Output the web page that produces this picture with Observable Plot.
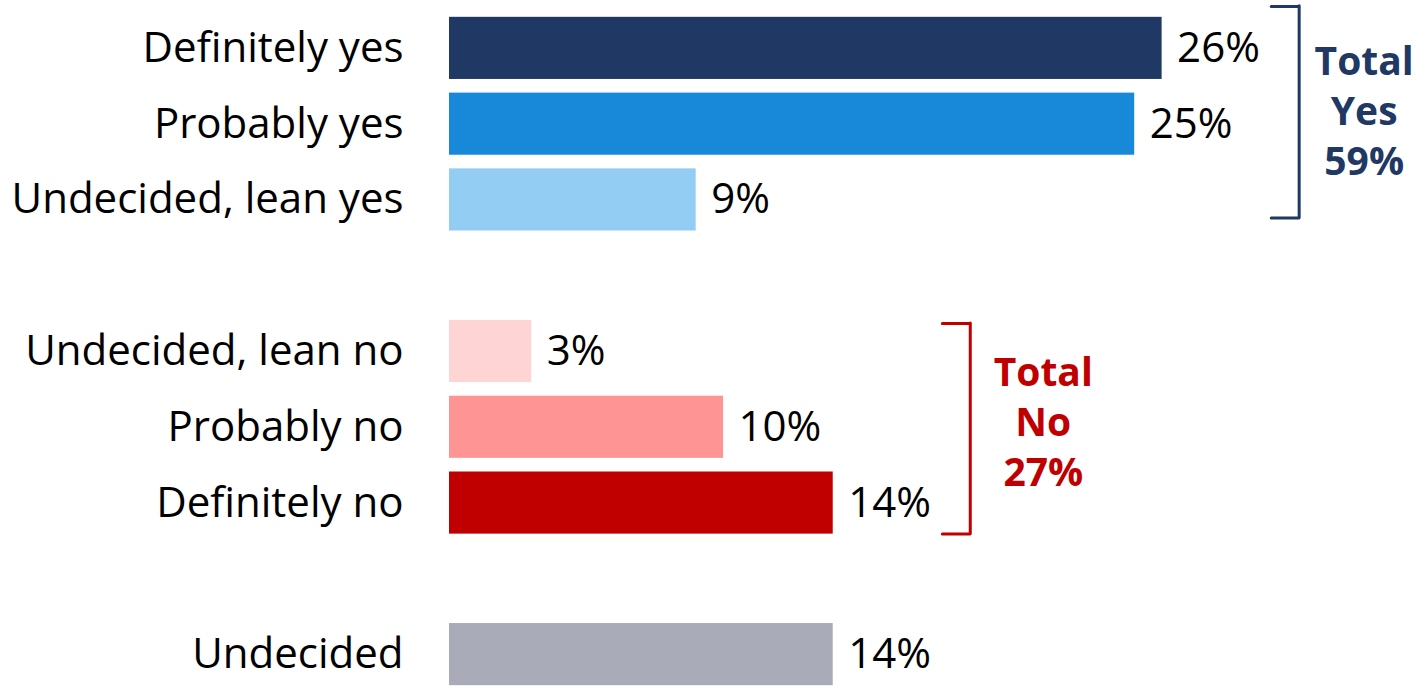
<!DOCTYPE html>
<html><head><meta charset="utf-8">
<script src="https://cdn.jsdelivr.net/npm/d3@7"></script>
<script src="https://cdn.jsdelivr.net/npm/@observablehq/plot@0.6"></script>
<style>html,body{margin:0;padding:0;background:#fff;overflow:hidden} #chart svg{display:block}</style>
</head><body><div id="chart"></div>
<script>
// ---- data ----
const categories = ["Definitely yes", "Probably yes", "Undecided, lean yes", "Undecided, lean no", "Probably no", "Definitely no", "Undecided"];
const values = [26, 25, 9, 3, 10, 14, 14];
const groups = ["yes", "yes", "yes", "no", "no", "no", "undecided"];
const barColors = ["#1f3864", "#1888d8", "#93cdf3", "#ffd4d5", "#ff9494", "#c00000", "#a9abb8"];
const totalGroups = ["yes", "no"];
const totalNames = ["Yes", "No"];
const totalValues = [59, 27];
const totalColors = ["#1f3864", "#c00000"];

// ---- derived tables ----
const rows = categories.map((c, i) => ({category: c, value: values[i], group: groups[i]}));
const yDomain = [];
rows.forEach((r, i) => {
  if (i > 0 && r.group !== rows[i - 1].group) yDomain.push("gap" + i);
  yDomain.push(r.category);
});

const FONT = "'Open Sans', sans-serif";
const FS = 42;
const FS_TOTAL = 39;

// per-bracket style tweaks (pixel offsets)
const bracketStyle = {
  yes: {topOff: -11, botOff: 13, dx: 65, dy: -15},
  no: {topOff: 3, botOff: 0, dx: 73, dy: -7}
};

const bracketMarks = totalGroups.flatMap((g, k) => {
  const members = rows.filter(r => r.group === g);
  const bx = d3.max(members, r => r.value) + 5;
  const first = members[0].category;
  const last = members[members.length - 1].category;
  const mid = members[Math.floor(members.length / 2)].category;
  const s = bracketStyle[g];
  const color = totalColors[k];
  const datum = [{x: bx, first, last, mid, label: `Total\n${totalNames[k]}\n${totalValues[k]}%`}];
  const common = {stroke: color, strokeWidth: 3, strokeLinecap: "round"};
  return [
    Plot.ruleX(datum, {x: "x", y1: "first", y2: "last", insetTop: s.topOff, insetBottom: s.botOff, ...common}),
    Plot.ruleY(datum, {y: "first", x1: d => d.x - 1, x2: "x", dy: -31 + s.topOff, ...common}),
    Plot.ruleY(datum, {y: "last", x1: d => d.x - 1, x2: "x", dy: 31 - s.botOff, ...common}),
    Plot.text(datum, {x: "x", y: "mid", text: "label", dx: s.dx, dy: s.dy, fill: color, fontWeight: "bold", fontSize: FS_TOTAL, lineHeight: 1.28, textAnchor: "middle", fontFamily: FONT})
  ];
});

const chart = Plot.plot({
  width: 1422,
  height: 692,
  marginLeft: 449,
  marginRight: 0,
  marginTop: 10,
  marginBottom: 0,
  style: {fontFamily: FONT, fontSize: FS + "px", color: "#000", background: "#fff"},
  x: {domain: [0, 35.5], axis: null},
  y: {domain: yDomain, paddingInner: 0.18, paddingOuter: 0.09, round: false, axis: null},
  color: {domain: categories, range: barColors},
  marks: [
    Plot.barX(rows, {x: "value", y: "category", fill: "category"}),
    Plot.text(rows, {x: "value", y: "category", text: d => d.value + "%", textAnchor: "start", dx: 15, fill: "#000", fontSize: FS, fontFamily: FONT}),
    Plot.axisY({ticks: categories, tickSize: 0, tickPadding: 46, fontSize: FS, label: null, fill: "#000", fontFamily: FONT}),
    ...bracketMarks
  ]
});
document.getElementById("chart").appendChild(chart);
</script>
</body></html>
